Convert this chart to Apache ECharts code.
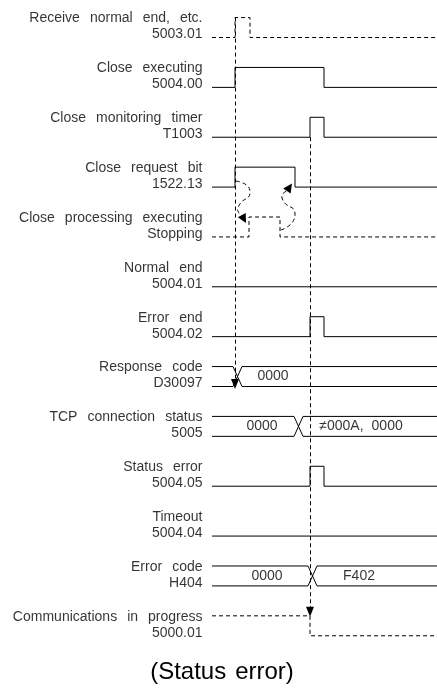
<!DOCTYPE html>
<html><head><meta charset="utf-8">
<script src="https://cdn.jsdelivr.net/npm/echarts@6/dist/echarts.min.js"></script>
<style>html,body{margin:0;padding:0;background:#fff}#c{width:437px;height:693px}</style>
</head><body><div id="c"></div>
<script>
// ---- data ----
const labelLine1 = ['Receive normal end, etc.', 'Close executing', 'Close monitoring timer', 'Close request bit',
  'Close processing executing', 'Normal end', 'Error end', 'Response code', 'TCP connection status',
  'Status error', 'Timeout', 'Error code', 'Communications in progress'];
const labelLine2 = ['5003.01', '5004.00', 'T1003', '1522.13', 'Stopping', '5004.01', '5004.02', 'D30097',
  '5005', '5004.05', '5004.04', 'H404', '5000.01'];
const timeMax = 225;
// bit signals: row, initial level, edge times, dashed?
const bitRows = [0, 1, 2, 3, 4, 5, 6, 9, 10, 12];
const bitInitial = [0, 0, 0, 0, 0, 0, 0, 0, 0, 1];
const bitEdges = [[23, 38], [23, 112], [98, 112], [23, 83], [37, 68], [], [98, 112], [98, 112], [], [98]];
const bitDashed = [true, false, false, false, true, false, false, false, false, true];
// bus signals: row, crossing start/end, value texts and their positions
const busRows = [7, 8, 11];
const busCross = [[21, 30], [82, 91], [96, 105]];
const busBefore = ['', '0000', '0000'];
const busBeforeAt = [0, 50, 55];
const busAfter = ['0000', '≠000A, 0000', 'F402'];
const busAfterAt = [61, 149, 147];
// cause arrows (vertical dashed): time, from row-level, to row-level
const causeTime = [23, 98];
const causeFrom = [-0.4, 2.0];
const causeTo = [6.95, 11.52];
// curved dashed arrows (time, row-level)
const curve1 = [[24, 2.88], [38, 3.08], [26, 3.42], [34, 3.72]];
const curve2 = [[69, 3.86], [83, 3.56], [70, 3.22], [80, 2.93]];
const curves = [curve1, curve2];
const titleText = '(Status error)';
const HIGH = 0.4;

// ---- build ----
const FONT = 'Liberation Sans, Arial, sans-serif';
const spaced = s => s.split(' ').join('{s| }');
const series = [];
const lineColor = '#000';
bitRows.forEach((row, i) => {
  let cur = bitInitial[i];
  const lvl = v => v ? row - HIGH : row;
  const pts = [[0, lvl(cur)]];
  bitEdges[i].forEach(t => { pts.push([t, lvl(cur)]); cur = 1 - cur; pts.push([t, lvl(cur)]); });
  pts.push([timeMax, lvl(cur)]);
  series.push({ type: 'line', data: pts, showSymbol: false, symbol: 'none', silent: true,
    lineStyle: { color: lineColor, width: 1, type: bitDashed[i] ? [4, 3] : 'solid' } });
});
busRows.forEach((row, i) => {
  const top = row - HIGH, bot = row;
  const [a, b] = busCross[i];
  series.push({ type: 'line', data: [[0, top], [a, top], [b, bot], [timeMax, bot]], showSymbol: false, symbol: 'none',
    lineStyle: { color: lineColor, width: 1 } });
  series.push({ type: 'line', data: [[0, bot], [a, bot], [b, top], [timeMax, top]], showSymbol: false, symbol: 'none',
    lineStyle: { color: lineColor, width: 1 } });
});
// bus value texts
const busText = [];
busRows.forEach((row, i) => {
  if (busBefore[i]) busText.push({ value: [busBeforeAt[i], row - HIGH / 2], txt: busBefore[i] });
  busText.push({ value: [busAfterAt[i], row - HIGH / 2], txt: busAfter[i] });
});
series.push({ type: 'scatter', data: busText, symbolSize: 1, itemStyle: { color: 'rgba(0,0,0,0)' }, silent: true,
  label: { show: true, position: 'inside', formatter: p => spaced(p.data.txt), color: '#000', fontSize: 14,
    fontFamily: FONT, rich: { s: { width: 8, fontSize: 14 } } } });
// row labels
series.push({ type: 'scatter', data: labelLine1.map((t, i) => [0, i - 0.22, i]), symbolSize: 1,
  itemStyle: { color: 'rgba(0,0,0,0)' }, silent: true,
  label: { show: true, position: 'left', distance: 9, align: 'right', color: '#000', fontSize: 14, lineHeight: 16,
    fontFamily: FONT, rich: { s: { width: 10, fontSize: 14, lineHeight: 16 } },
    formatter: p => spaced(labelLine1[p.data[2]]) + '\n' + spaced(labelLine2[p.data[2]]) } });
// vertical cause arrows
series.push({ type: 'line', data: [], markLine: { silent: true, animation: false, symbol: ['none', 'triangle'], symbolSize: [8, 10],
  label: { show: false }, lineStyle: { color: '#000', width: 1, type: [4, 3] },
  data: causeTime.map((t, i) => [{ coord: [t, causeFrom[i]] }, { coord: [t, causeTo[i]] }]) } });
// curved arrows
series.push({ type: 'custom', coordinateSystem: 'cartesian2d', silent: true,
  data: curves.map((c, i) => [c[0][0], c[0][1], i]),
  renderItem: (params, api) => {
    const c = curves[params.dataIndex];
    const pts = c.map(p => api.coord(p));
    const n = pts.length;
    const tip = pts[n - 1], prev = pts[n - 2];
    let dx = tip[0] - prev[0], dy = tip[1] - prev[1];
    const len = Math.hypot(dx, dy); dx /= len; dy /= len;
    const L = 9, W = 4.5;
    const bx = tip[0] - dx * L, by = tip[1] - dy * L;
    return { type: 'group', children: [
      { type: 'polyline', shape: { points: pts.slice(0, n - 1).concat([[bx, by]]), smooth: 0.7 },
        style: { stroke: '#000', lineWidth: 1, lineDash: [4, 3], fill: null } },
      { type: 'polygon', shape: { points: [tip, [bx - dy * W, by + dx * W], [bx + dy * W, by - dx * W]] },
        style: { fill: '#000' } }
    ] };
  } });

const chart = echarts.init(document.getElementById('c'), null, { renderer: 'canvas' });
chart.setOption({
  animation: false,
  grid: { left: 212, right: 0, top: 12.6, bottom: 32.3, containLabel: false },
  xAxis: { type: 'value', min: 0, max: timeMax, show: false },
  yAxis: { type: 'value', min: -0.5, max: 12.5, inverse: true, show: false },
  graphic: [{ type: 'text', x: 222, y: 672, style: { text: spaced(titleText), textAlign: 'center', textVerticalAlign: 'middle',
    font: '24px "Liberation Sans", Arial, sans-serif', fill: '#000',
    rich: { s: { width: 9, font: '24px "Liberation Sans", Arial, sans-serif' } } } }],
  series: series
});
</script></body></html>
